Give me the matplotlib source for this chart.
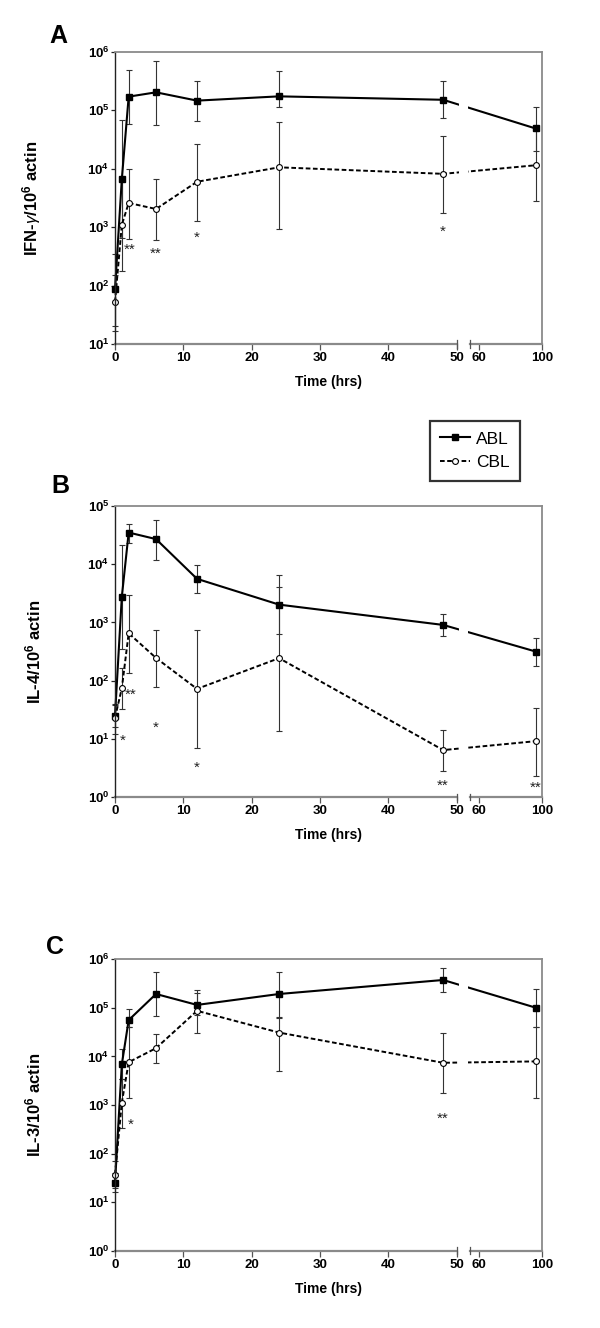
import numpy as np
import matplotlib
matplotlib.use('Agg')
import matplotlib.pyplot as plt

plt.rcParams['font.family'] = ['Liberation Sans', 'DejaVu Sans']
plt.rcParams['mathtext.fontset'] = 'custom'
plt.rcParams['mathtext.rm'] = 'Liberation Sans'
plt.rcParams['mathtext.bf'] = 'Liberation Sans:bold'
plt.rcParams['mathtext.it'] = 'Liberation Sans:italic'

# sampling times (hrs)
times = [0, 1, 2, 6, 12, 24, 48, 96]

# panel A: IFN-gamma
ifn_abl = [86, 6700, 1.72e5, 2.04e5, 1.47e5, 1.74e5, 1.52e5, 4.9e4]
ifn_abl_lo = [20, 650, 5.9e4, 5.6e4, 6.5e4, 1.13e5, 7.3e4, 2.0e4]
ifn_abl_hi = [350, 6.9e4, 4.9e5, 7.0e5, 3.15e5, 4.7e5, 3.2e5, 1.13e5]
ifn_cbl = [52, 1100, 2600, 2050, 6000, 1.06e4, 8200, 1.15e4]
ifn_cbl_lo = [17, 175, 630, 600, 1300, 930, 1740, 2760]
ifn_cbl_hi = [150, 7000, 1.0e4, 6700, 2.7e4, 6.3e4, 3.7e4, 4.7e4]
ifn_star_t = [2.2, 6, 12, 48]
ifn_star_y = [480, 410, 790, 980]
ifn_star_txt = ['**', '**', '*', '*']

# panel B: IL-4
il4_abl = [25, 2770, 3.5e4, 2.7e4, 5600, 2020, 905, 316]
il4_abl_lo = [16, 350, 2.3e4, 1.2e4, 3150, 630, 590, 180]
il4_abl_hi = [40, 2.1e4, 5.0e4, 5.7e4, 9800, 6500, 1380, 550]
il4_cbl = [23, 74, 650, 245, 72, 243, 6.4, 9.1]
il4_cbl_lo = [12, 32, 135, 78, 6.9, 13.6, 2.75, 2.3]
il4_cbl_hi = [38, 163, 3000, 750, 735, 4100, 13.9, 34]
il4_star_t = [1.2, 2.3, 6, 12, 48, 96]
il4_star_y = [11, 67, 18.6, 3.7, 1.86, 1.7]
il4_star_txt = ['*', '**', '*', '*', '**', '**']

# panel C: IL-3
il3_abl = [25, 6900, 5.6e4, 1.93e5, 1.15e5, 1.93e5, 3.75e5, 1.01e5]
il3_abl_lo = [16, 3500, 4.0e4, 6.7e4, 3.0e4, 6.5e4, 2.1e5, 4.1e4]
il3_abl_hi = [40, 1.4e4, 9.7e4, 5.4e5, 2.36e5, 5.4e5, 6.5e5, 2.5e5]
il3_cbl = [37, 1120, 7600, 1.48e4, 8.7e4, 3.1e4, 7400, 7900]
il3_cbl_lo = [20, 330, 1380, 7200, 7.1e4, 4900, 1780, 1380]
il3_cbl_hi = [70, 3500, 4.0e4, 2.86e4, 2.05e5, 6.3e4, 3.0e4, 4.1e4]
il3_star_t = [2.3, 48]
il3_star_y = [490, 630]
il3_star_txt = ['*', '**']

xticks = [0, 10, 20, 30, 40, 50, 60, 100]

# broken x axis: 0-50 full scale, then a short gap, then 54.7-100 compressed
XK = [-100, 0, 50, 54.7, 100, 200]
UK = [-100, 0, 50, 51.96, 62.46, 85.64]


def fwd(x):
    return np.interp(x, XK, UK)


def inv(u):
    return np.interp(u, UK, XK)


GRAY = '#8a8a8a'
DARK = '#222222'


def draw_panel(ax, abl, abl_lo, abl_hi, cbl, cbl_lo, cbl_hi,
               ymin, ymax, ylabel, st_t, st_y, st_txt):
    ax.set_xscale('function', functions=(fwd, inv))
    ax.set_yscale('log')
    ax.set_xlim(0, 100)
    ax.set_ylim(10 ** ymin, 10 ** ymax)

    abl = np.array(abl)
    cbl = np.array(cbl)
    ax.errorbar(times, abl, yerr=[abl - np.array(abl_lo), np.array(abl_hi) - abl],
                fmt='none', ecolor='#333333', elinewidth=0.8, capsize=2.5,
                capthick=0.8, clip_on=False, zorder=1.8)
    ax.errorbar(times, cbl, yerr=[cbl - np.array(cbl_lo), np.array(cbl_hi) - cbl],
                fmt='none', ecolor='#333333', elinewidth=0.8, capsize=2.5,
                capthick=0.8, clip_on=False, zorder=1.8)
    ax.plot(times, abl, '-', color='black', lw=1.5, marker='s', ms=4.2,
            mfc='black', mec='black', clip_on=False, zorder=2, label='ABL')
    ax.plot(times, cbl, color='black', lw=1.4, ls=(0, (2.4, 1.3)), marker='o',
            ms=4.2, mfc='white', mec='black', mew=0.8, clip_on=False,
            zorder=2.05, label='CBL')

    # gap in the connecting lines across the axis break
    ax.axvspan(50.7, 53.8, ymin=0.004, ymax=0.996, color='white', lw=0, zorder=2.2)

    for t, y, s in zip(st_t, st_y, st_txt):
        ax.annotate(s, (t, y), xytext=(0, -6), textcoords='offset points',
                    ha='center', va='baseline', fontsize=11, color='#222222')

    # spines
    ax.spines['left'].set_color(DARK)
    ax.spines['left'].set_linewidth(1.0)
    for s in ['top', 'right']:
        ax.spines[s].set_color(GRAY)
        ax.spines[s].set_linewidth(1.3)
    ax.spines['bottom'].set_visible(False)
    tr = ax.get_xaxis_transform()
    ax.plot([0, 50], [0, 0], color=GRAY, lw=1.6, transform=tr, clip_on=False)
    ax.plot([54.7, 100], [0, 0], color=GRAY, lw=1.6, transform=tr, clip_on=False)
    for xb in [50, 54.7]:
        ax.plot([xb, xb], [-0.012, 0.012], color='#555555', lw=0.9,
                transform=tr, clip_on=False)

    ax.set_xticks(xticks)
    ax.set_xticklabels([str(v) for v in xticks])
    ax.tick_params(axis='x', direction='out', length=4, width=0.9, color='#555555',
                   pad=2, labelsize=9.5)
    for lab in ax.get_xticklabels():
        lab.set_fontweight('bold')

    yt = [10.0 ** k for k in range(ymin, ymax + 1)]
    ax.set_yticks(yt)
    ax.set_yticklabels([r'$\mathbf{10^{%d}}$' % k for k in range(ymin, ymax + 1)])
    ax.yaxis.set_minor_locator(matplotlib.ticker.NullLocator())
    ax.tick_params(axis='y', direction='out', length=3, width=0.9, color=DARK,
                   pad=1, labelsize=9.5)

    ax.set_xlabel('Time (hrs)', fontsize=10, fontweight='bold', labelpad=8)
    ax.set_ylabel(ylabel, fontsize=12, fontweight='bold')
    ax.yaxis.set_label_coords(-72 / 427, 0.5)


fig = plt.figure(figsize=(6, 13.28), dpi=100)

axA = fig.add_axes([115 / 600, 1 - 344 / 1328, 427 / 600, 292 / 1328])
axB = fig.add_axes([115 / 600, 1 - 797 / 1328, 427 / 600, 291 / 1328])
axC = fig.add_axes([115 / 600, 1 - 1250.7 / 1328, 427 / 600, 291.4 / 1328])

draw_panel(axA, ifn_abl, ifn_abl_lo, ifn_abl_hi, ifn_cbl, ifn_cbl_lo, ifn_cbl_hi,
           1, 6, r'IFN-$\mathit{\gamma}$/10$^{\mathbf{6}}$ actin',
           ifn_star_t, ifn_star_y, ifn_star_txt)
draw_panel(axB, il4_abl, il4_abl_lo, il4_abl_hi, il4_cbl, il4_cbl_lo, il4_cbl_hi,
           0, 5, r'IL-4/10$^{\mathbf{6}}$ actin',
           il4_star_t, il4_star_y, il4_star_txt)
draw_panel(axC, il3_abl, il3_abl_lo, il3_abl_hi, il3_cbl, il3_cbl_lo, il3_cbl_hi,
           0, 6, r'IL-3/10$^{\mathbf{6}}$ actin',
           il3_star_t, il3_star_y, il3_star_txt)

for letter, (px, py) in zip('ABC', [(58, 36), (60, 486), (55, 947)]):
    fig.text(px / 600, 1 - py / 1328, letter, fontsize=18, fontweight='bold',
             ha='center', va='center')

handles, labels = axB.get_legend_handles_labels()
leg = fig.legend(handles, labels, loc='upper left',
                 bbox_to_anchor=(430 / 600, 1 - 421 / 1328), fontsize=12.5,
                 frameon=True, fancybox=False, edgecolor='black',
                 handlelength=1.7, handletextpad=0.35, borderpad=0.6,
                 labelspacing=0.5, borderaxespad=0)
leg.get_frame().set_linewidth(1.6)

fig.savefig('out.png', dpi=100)
